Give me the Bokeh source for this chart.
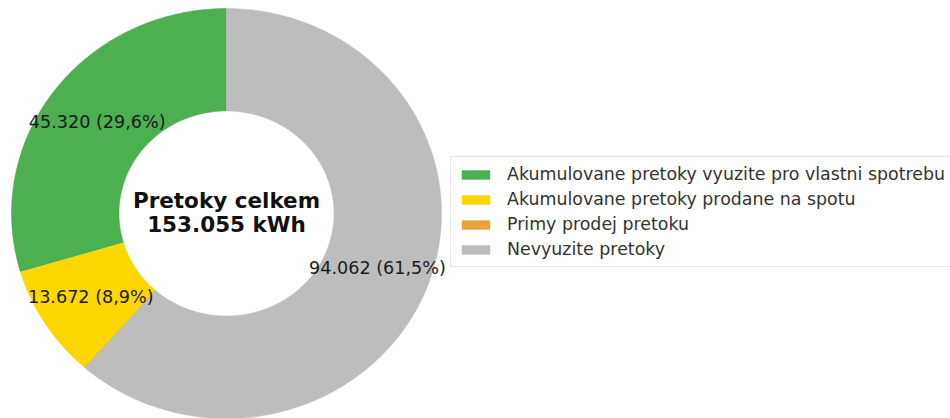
import numpy as np
from bokeh.plotting import figure
from bokeh.models import ColumnDataSource, Legend, LegendItem, Range1d
from bokeh.embed import file_html
from bokeh.resources import INLINE
from bokeh.core.properties import value

categories = [
    "Akumulovane pretoky vyuzite pro vlastni spotrebu",
    "Akumulovane pretoky prodane na spotu",
    "Primy prodej pretoku",
    "Nevyuzite pretoky",
]
values = [45320, 13672, 0, 94062]
colors = ["#4CAF50", "#FFD700", "#E8A33D", "#BDBDBD"]
center_line1 = "Pretoky celkem"
center_line2 = "153.055 kWh"

W, H = 950, 418
cx_px, cy_px, rx_px, ry_px = 226, 213, 215, 205
outer_r, inner_r, label_r = 1.0, 0.5, 0.75

p = figure(width=W, height=H, output_backend="svg", toolbar_location=None,
           x_axis_type=None, y_axis_type=None, min_border=0,
           x_range=Range1d(-cx_px / rx_px, (W - cx_px) / rx_px),
           y_range=Range1d(-(H - cy_px) / ry_px, cy_px / ry_px))
p.outline_line_color = None
p.grid.visible = False
p.background_fill_color = "white"

total = float(sum(values))
cum = np.concatenate([[0.0], np.cumsum(values)]) / total
xs, ys, lx, ly, labels = [], [], [], [], []
for i, v in enumerate(values):
    a0 = np.pi / 2 + 2 * np.pi * cum[i]
    a1 = np.pi / 2 + 2 * np.pi * cum[i + 1]
    n = max(2, int(400 * (cum[i + 1] - cum[i])) + 2)
    t = np.linspace(a0, a1, n)
    xs.append(list(np.concatenate([outer_r * np.cos(t), inner_r * np.cos(t[::-1])])))
    ys.append(list(np.concatenate([outer_r * np.sin(t), inner_r * np.sin(t[::-1])])))
    if v > 0:
        am = (a0 + a1) / 2
        lx.append(label_r * np.cos(am))
        ly.append(label_r * np.sin(am))
        pct = 100 * v / total
        labels.append(f"{v:,}".replace(",", ".") + f" ({pct:.1f}%)".replace(".", ","))

src = ColumnDataSource(dict(xs=xs, ys=ys, color=colors, name=categories))
r = p.patches("xs", "ys", source=src, fill_color="color", line_color="color", line_width=0.5)

p.text(x=lx, y=ly, text=labels, text_align="center", text_baseline="middle",
       text_font=value("DejaVu Sans"), text_font_size="17.6px", text_color="#1a1a1a")

p.text(x=[0], y=[0], text=[center_line1], text_align="center", text_baseline="alphabetic",
       y_offset=-13, text_font=value("DejaVu Sans"), text_font_size="21.5px",
       text_font_style="bold", text_color="#111111")
p.text(x=[0], y=[0], text=[center_line2], text_align="center", text_baseline="alphabetic",
       y_offset=10.5, text_font=value("DejaVu Sans"), text_font_size="21.5px",
       text_font_style="bold", text_color="#111111")

items = [LegendItem(label=c, renderers=[r], index=i) for i, c in enumerate(categories)]
legend = Legend(items=items, location=(450, 151), orientation="vertical")
legend.label_text_font = "DejaVu Sans"
legend.label_text_font_size = "17.4px"
legend.label_text_color = "#333333"
legend.glyph_width = 35
legend.glyph_height = 11
legend.label_height = 19
legend.spacing = 5
legend.padding = 7
legend.margin = 0
legend.label_standoff = 14
legend.border_line_color = "#cccccc"
legend.border_line_width = 1
legend.background_fill_color = "white"
legend.background_fill_alpha = 1.0
p.add_layout(legend, "center")

open("out.html", "w").write(file_html(p, INLINE))
